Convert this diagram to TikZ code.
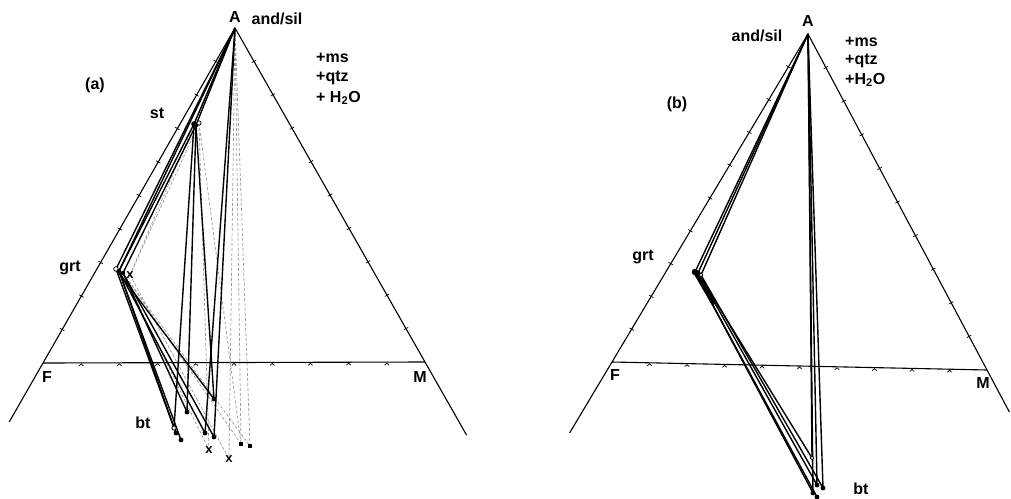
\documentclass[tikz,border=0pt]{standalone}
\usepackage{fontspec}
\setmainfont{Liberation Sans}
\usetikzlibrary{calc}
\begin{document}
\begin{tikzpicture}[x=1pt,y=-1pt,
  side/.style={line width=1.1pt,black},
  tie/.style={line width=1.4pt,black},
  faint/.style={line width=0.7pt,black!40,densely dashed},
  lbl/.style={font=\fontsize{16}{18}\selectfont\bfseries,inner sep=0pt},
  xlbl/.style={font=\fontsize{13}{14}\selectfont\bfseries,inner sep=0pt},
  dotf/.style={fill=black},
  doto/.style={draw=black,fill=white,line width=0.8pt}
]
\useasboundingbox (0,0) rectangle (1011,498);
\fill[white] (0,0) rectangle (1011,498);

% ================= (a) =================
\coordinate (A1) at (235,28);
\coordinate (F1) at (43,363);
\coordinate (M1) at (425,362);
\coordinate (EF1) at ($(A1)!1.176!(F1)$);
\coordinate (EM1) at ($(A1)!1.219!(M1)$);
\draw[side] (EF1) -- (A1) -- (EM1);
\draw[side] (F1) -- (M1);
\foreach \i in {1,...,9}{
  \coordinate (p) at ($(A1)!\i/10!(F1)$);
  \draw[line width=0.7pt] ($(p)!2.5pt!90:(A1)$) -- ($(p)!2.5pt!-90:(A1)$);
  \coordinate (q) at ($(A1)!\i/10!(M1)$);
  \draw[line width=0.7pt] ($(q)!2.5pt!90:(A1)$) -- ($(q)!2.5pt!-90:(A1)$);
  \coordinate (r) at ($(F1)!\i/10!(M1)$);
  \draw[line width=0.7pt] ($(r)+(-2.2,3)$) -- ($(r)+(0,1)$) -- ($(r)+(2.2,3)$);
}
% points
\coordinate (s1) at (194,124);
\coordinate (s2) at (196,125);
\coordinate (so) at (199,123);
\coordinate (g1) at (116,269);
\coordinate (g2) at (119,271);
\coordinate (g3) at (123,273);
\coordinate (gx) at (130,275);
\coordinate (b1) at (174,428);
\coordinate (b2) at (176,433);
\coordinate (b3) at (181,440);
\coordinate (b4) at (187,412);
\coordinate (b5) at (205,433);
\coordinate (b6) at (214,437);
\coordinate (b7) at (214,399);
\coordinate (bx1) at (209,450);
\coordinate (bx2) at (229,459);
\coordinate (bq1) at (241,444);
\coordinate (bq2) at (250,446);
% faint lines
\draw[faint] (A1) -- (gx);
\draw[faint] (so) -- (gx);
\draw[faint] (A1) -- (bx2);
\draw[faint] (A1) -- (bq1);
\draw[faint] (A1) -- (bq2);
\draw[faint] (so) -- (bq1);
\draw[faint] (so) -- (bx1);
\draw[faint] (g3) -- (bq1);
\draw[faint] (g3) -- (bq2);
\draw[faint] (g3) -- (bx1);
\draw[faint] (gx) -- (bx2);
% tie lines
\draw[tie] (A1) -- (s1);
\draw[tie] (A1) -- (s2);
\draw[tie] (A1) -- (g1);
\draw[tie] (A1) -- (g2);
\draw[tie] (s1) -- (g2);
\draw[tie] (s2) -- (g3);
\draw[tie] (s1) -- (b1);
\draw[tie] (s2) -- (b4);
\draw[tie] (s2) -- (b7);
\draw[tie] (A1) -- (b5);
\draw[tie] (A1) -- (b6);
\draw[tie] (g1) -- (b1);
\draw[tie] (g2) -- (b2);
\draw[tie] (g2) -- (b3);
\draw[tie] (g3) -- (b4);
\draw[tie] (g2) -- (b5);
\draw[tie] (g3) -- (b6);
\draw[tie] (g1) -- (b7);
% markers
\fill[dotf] (s1) circle (2.8pt);
\fill[dotf] (s2) circle (2.4pt);
\draw[doto] (so) circle (2.1pt);
\draw[doto] (g1) circle (2.3pt);
\fill[dotf] (g2) circle (2.2pt);
\fill[dotf] (g3) circle (2.2pt);
\draw[doto] (b1) circle (2.1pt);
\foreach \p in {b2,b3,b4,b5,b6,b7}{\fill[dotf] (\p) circle (2.4pt);}
\fill (bq1) +(-2.3,-1.7) rectangle +(2.3,1.7);
\fill (bq2) +(-2.3,-1.7) rectangle +(2.3,1.7);
\node[xlbl] (xgx) at (gx) {x};
\node[xlbl] (xb1) at (bx1) {x};
\node[xlbl] (xb2) at (bx2) {x};
% labels
\node[lbl] (lA1) at (235,17) {A};
\node[lbl] (lAS1) at (277,19) {and/sil};
\node[lbl,anchor=west] (lms1) at (316,58) {+ms};
\node[lbl,anchor=west] (lqtz1) at (316,78) {+qtz};
\node[lbl,anchor=west] (lh1) at (316,98) {+ H$_{\mathbf 2}$O};
\node[lbl] (la) at (95,85) {(a)};
\node[lbl] (lst) at (157,113) {st};
\node[lbl] (lgrt1) at (70,268) {grt};
\node[lbl] (lbt1) at (143,423) {bt};
\node[lbl] (lF1) at (47,377) {F};
\node[lbl] (lM1) at (420,377) {M};

% ================= (b) =================
\coordinate (A2) at (808,34);
\coordinate (F2) at (612,362);
\coordinate (M2) at (987,370);
\coordinate (EF2) at ($(A2)!1.216!(F2)$);
\coordinate (EM2) at ($(A2)!1.125!(M2)$);
\draw[side] (EF2) -- (A2) -- (EM2);
\draw[side] (F2) -- (M2);
\foreach \i in {1,...,9}{
  \coordinate (p) at ($(A2)!\i/10!(F2)$);
  \draw[line width=0.7pt] ($(p)!2.5pt!90:(A2)$) -- ($(p)!2.5pt!-90:(A2)$);
  \coordinate (q) at ($(A2)!\i/10!(M2)$);
  \draw[line width=0.7pt] ($(q)!2.5pt!90:(A2)$) -- ($(q)!2.5pt!-90:(A2)$);
  \coordinate (r) at ($(F2)!\i/10!(M2)$);
  \draw[line width=0.7pt] ($(r)+(-2.2,3)$) -- ($(r)+(0,1)$) -- ($(r)+(2.2,3)$);
}
\coordinate (h1) at (695,272);
\coordinate (h2) at (698,273);
\coordinate (ho) at (701,275);
\coordinate (c1) at (812,458);
\coordinate (c2) at (817,485);
\coordinate (c3) at (823,488);
\coordinate (c4) at (813,493);
\coordinate (c5) at (817,497);
\coordinate (hk) at (713,303);
\draw[tie] (A2) -- (h1);
\draw[tie] (A2) -- (h2);
\draw[tie] (A2) -- (ho);
\draw[tie] (A2) -- (c1);
\draw[tie] (A2) -- (c2);
\draw[tie] (A2) -- (c3);
\draw[tie] (A2) -- (c4);
\draw[tie] (h1) -- (c4);
\draw[tie] (h1) -- (c5);
\draw[tie] (h2) -- (c1);
\draw[tie] (h2) -- (c2);
\draw[tie] (ho) -- (c3);
\draw[line width=4pt,line cap=round] (h1) -- (hk);
\fill[dotf] (h1) circle (3.3pt);
\fill[dotf] (h2) circle (2.6pt);
\draw[doto] (ho) circle (1.9pt);
\draw[doto] (c1) circle (1.9pt);
\foreach \p in {c2,c3,c4,c5}{\fill[dotf] (\p) circle (2.4pt);}
\node[lbl] (lA2) at (808,21) {A};
\node[lbl] (lAS2) at (757,36) {and/sil};
\node[lbl,anchor=west] (lms2) at (845,42) {+ms};
\node[lbl,anchor=west] (lqtz2) at (845,61) {+qtz};
\node[lbl,anchor=west] (lh2) at (845,80) {+H$_{\mathbf 2}$O};
\node[lbl] (lb) at (677,104) {(b)};
\node[lbl] (lgrt2) at (643,257) {grt};
\node[lbl] (lbt2) at (861,489) {bt};
\node[lbl] (lF2) at (615,375) {F};
\node[lbl] (lM2) at (983,383) {M};
\end{tikzpicture}
\end{document}
